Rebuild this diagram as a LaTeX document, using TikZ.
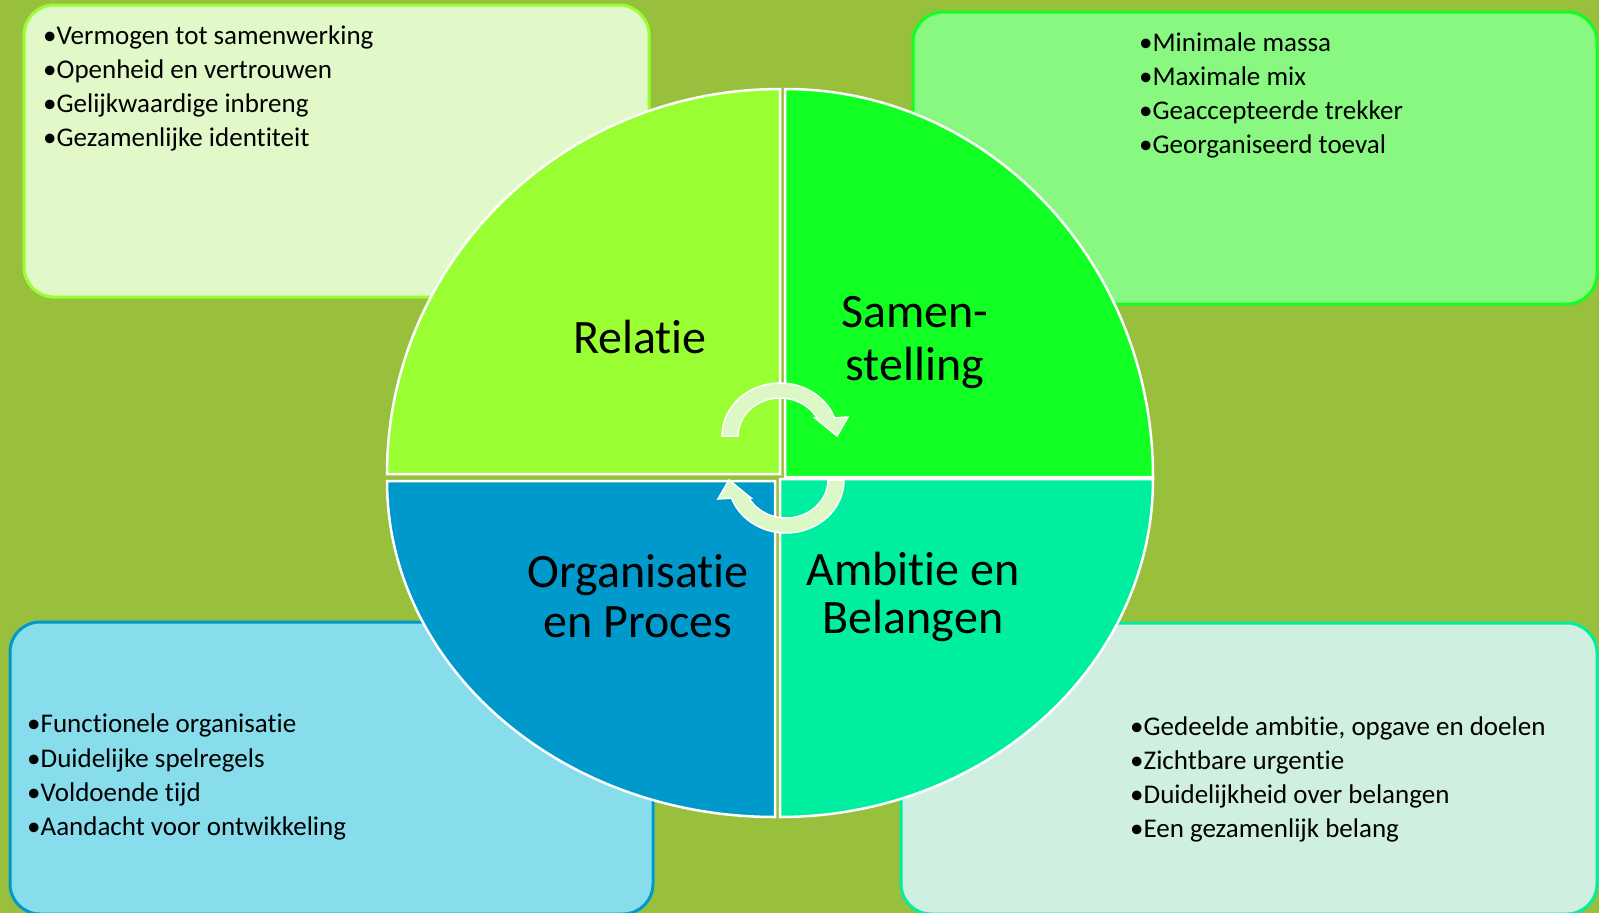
\documentclass[tikz,border=0pt]{standalone}
\usepackage{fontspec}
\setmainfont{Carlito}[Ligatures=NoCommon]
\definecolor{bg}{HTML}{98C03C}
\definecolor{qtl}{HTML}{99FF33}
\definecolor{qtr}{HTML}{11FF22}
\definecolor{qbl}{HTML}{0099CC}
\definecolor{qbr}{HTML}{00EEA0}
\definecolor{btl}{HTML}{E1F8C8}
\definecolor{btr}{HTML}{88F880}
\definecolor{bbl}{HTML}{87DDEB}
\definecolor{bbr}{HTML}{CFEFE0}
\definecolor{arrowc}{HTML}{DCF8C6}
\begin{document}
\begin{tikzpicture}[x=1pt,y=-1pt,
  quad/.style={draw=white,line width=2.5pt},
  infobox/.style={rounded corners=30pt,line width=3pt},
  item/.style={anchor=base west,inner sep=0pt,font=\fontsize{27}{30}\selectfont},
  big/.style={anchor=base,inner sep=0pt,font=\fontsize{48}{50}\selectfont},
  cyc/.style={fill=arrowc,draw=white,line width=1.5pt}]
\fill[bg] (0,0) rectangle (1599,913);
\useasboundingbox (0,0) rectangle (1599,913);
% info boxes
\draw[infobox,fill=btl,draw=qtl] (24,5) rectangle (649,297);
\draw[infobox,fill=btr,draw=qtr] (913,12) rectangle (1597,304);
\draw[infobox,fill=bbl,draw=qbl] (10,622) rectangle (653,914);
\draw[infobox,fill=bbr,draw=qbr] (901,623) rectangle (1597,914);
% quadrants
\draw[quad,fill=qtl] (780,474) -- (387,474) arc[start angle=180,end angle=270,x radius=393,y radius=385] -- cycle;
\draw[quad,fill=qtr] (785,477) -- (785,89) arc[start angle=270,end angle=360,x radius=368,y radius=388] -- cycle;
\draw[quad,fill=qbl] (775,481) -- (387,481) arc[start angle=180,end angle=90,x radius=388,y radius=336] -- cycle;
\draw[quad,fill=qbr] (780,479) -- (1153,479) arc[start angle=0,end angle=90,x radius=373,y radius=338] -- cycle;
% cycle arrows
\begin{scope}[shift={(780,436)}]
\draw[cyc] (-42,0) -- (-58,0) arc[start angle=180,end angle=340,x radius=58,y radius=53]
  -- (68,-19) -- (57,0) -- (35,-18) -- (332:42 and 38)
  arc[start angle=332,end angle=180,x radius=42,y radius=38] -- cycle;
\end{scope}
\begin{scope}[shift={(786,480)},rotate=180]
\draw[cyc] (-42,0) -- (-58,0) arc[start angle=180,end angle=340,x radius=58,y radius=53]
  -- (68,-19) -- (57,0) -- (35,-18) -- (332:42 and 38)
  arc[start angle=332,end angle=180,x radius=42,y radius=38] -- cycle;
\end{scope}
% big labels
\node[big] (rel) at (640,353) {Relatie};
\node[big] (sam1) at (915,327) {Samen-};
\node[big] (sam2) at (915,380) {stelling};
\node[big] (org1) at (638,587) {Organisatie};
\node[big] (org2) at (638,637) {en Proces};
\node[big] (amb1) at (913,585) {Ambitie en};
\node[big] (amb2) at (913,633) {Belangen};
% lists
\node[item] (tl1) at (43,44) {•Vermogen tot samenwerking};
\node[item] (tl2) at (43,78) {•Openheid en vertrouwen};
\node[item] (tl3) at (43,112) {•Gelijkwaardige inbreng};
\node[item] (tl4) at (43,146) {•Gezamenlijke identiteit};
\node[item] (tr1) at (1139,51) {•Minimale massa};
\node[item] (tr2) at (1139,85) {•Maximale mix};
\node[item] (tr3) at (1139,119) {•Geaccepteerde trekker};
\node[item] (tr4) at (1139,153) {•Georganiseerd toeval};
\node[item] (bl1) at (27,732) {•Functionele organisatie};
\node[item] (bl2) at (27,767) {•Duidelijke spelregels};
\node[item] (bl3) at (27,801) {•Voldoende tijd};
\node[item] (bl4) at (27,835) {•Aandacht voor ontwikkeling};
\node[item] (br1) at (1130,735) {•Gedeelde ambitie, opgave en doelen};
\node[item] (br2) at (1130,769) {•Zichtbare urgentie};
\node[item] (br3) at (1130,803) {•Duidelijkheid over belangen};
\node[item] (br4) at (1130,837) {•Een gezamenlijk belang};
\end{tikzpicture}
\end{document}
